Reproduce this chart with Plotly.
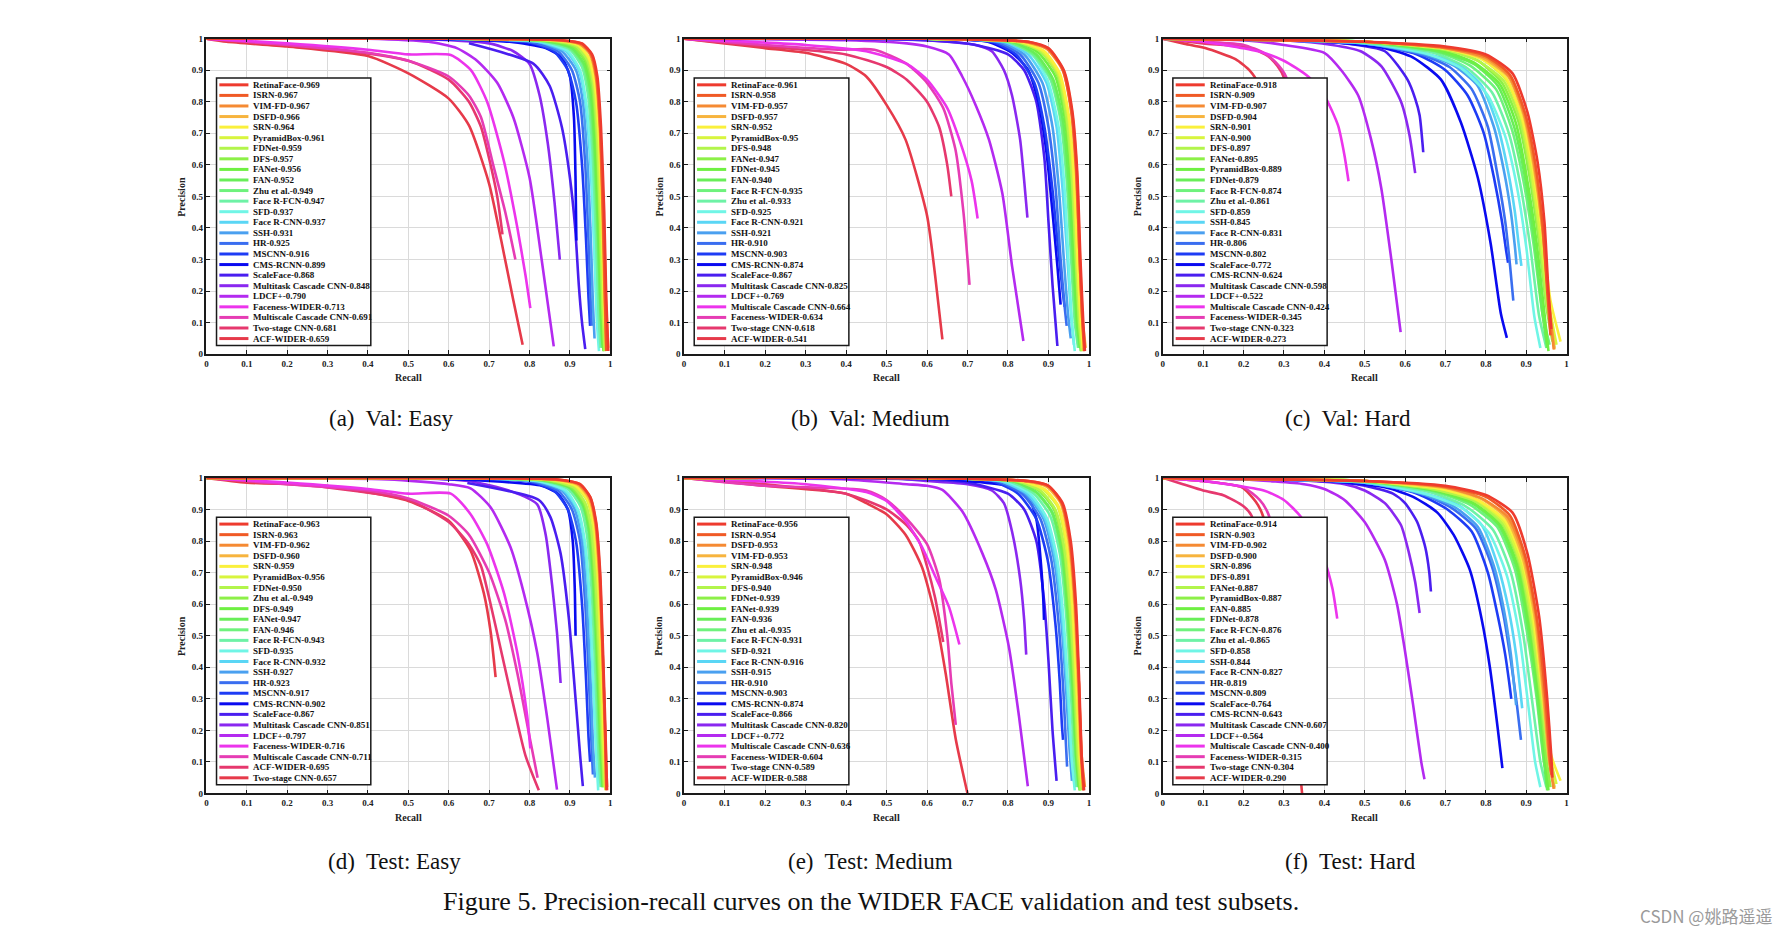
import plotly.graph_objects as go

# ---------------- colours by legend rank ----------------
COLORS = ["#ee3b2e", "#f05a26", "#f58a33", "#f7b43e", "#faf03c", "#d8f53e", "#b2f54b", "#8cf047",
          "#6ef042", "#68ee58", "#6ef27c", "#6ef2a6", "#70f5e6", "#5ad6f5", "#4aa0f0", "#3a6ef0",
          "#1e3cf5", "#0a0af0", "#4a1ef0", "#8a28f0", "#b42af0", "#ec34ec", "#e63cb4", "#e6386e", "#e63a4a"]

TICKS = [0, 0.1, 0.2, 0.3, 0.4, 0.5, 0.6, 0.7, 0.8, 0.9, 1]
TICK_TEXT = ["0", "0.1", "0.2", "0.3", "0.4", "0.5", "0.6", "0.7", "0.8", "0.9", "1"]

CAPTIONS = ["(a)\u00a0 Val: Easy", "(b)\u00a0 Val: Medium", "(c)\u00a0 Val: Hard",
            "(d)\u00a0 Test: Easy", "(e)\u00a0 Test: Medium", "(f)\u00a0 Test: Hard"]
FIG_CAPTION = "Figure 5. Precision-recall curves on the WIDER FACE validation and test subsets."
WATERMARK = "CSDN @姚路遥遥"

# ---------------- (a) Val: Easy ----------------
A_NAMES = ["RetinaFace", "ISRN", "VIM-FD", "DSFD", "SRN", "PyramidBox", "FDNet", "DFS", "FANet", "FAN",
           "Zhu et al.", "Face R-FCN", "SFD", "Face R-CNN", "SSH", "HR", "MSCNN", "CMS-RCNN", "ScaleFace",
           "Multitask Cascade CNN", "LDCF+", "Faceness-WIDER", "Multiscale Cascade CNN", "Two-stage CNN", "ACF-WIDER"]
A_AP = ["0.969", "0.967", "0.967", "0.966", "0.964", "0.961", "0.959", "0.957", "0.956", "0.952", "0.949", "0.947",
        "0.937", "0.937", "0.931", "0.925", "0.916", "0.899", "0.868", "0.848", "0.790", "0.713", "0.691", "0.681", "0.659"]
A_R = [
    [0, 0.6, 0.88, 0.93, 0.955, 0.968, 0.977, 0.985, 0.99, 0.995],
    [0, 0.6, 0.88, 0.93, 0.953, 0.966, 0.975, 0.982, 0.987, 0.99],
    [0, 0.6, 0.87, 0.925, 0.95, 0.964, 0.974, 0.981, 0.986, 0.99],
    [0, 0.6, 0.87, 0.925, 0.952, 0.966, 0.976, 0.984, 0.99, 0.995],
    [0, 0.6, 0.86, 0.92, 0.947, 0.962, 0.972, 0.98, 0.985, 0.99],
    [0, 0.6, 0.86, 0.92, 0.945, 0.96, 0.97, 0.978, 0.984, 0.99],
    [0, 0.6, 0.85, 0.915, 0.942, 0.957, 0.967, 0.975, 0.981, 0.986],
    [0, 0.6, 0.85, 0.91, 0.94, 0.955, 0.966, 0.974, 0.98, 0.985],
    [0, 0.6, 0.85, 0.91, 0.937, 0.953, 0.963, 0.972, 0.978, 0.983],
    [0, 0.6, 0.84, 0.905, 0.935, 0.95, 0.961, 0.97, 0.976, 0.981],
    [0, 0.6, 0.84, 0.9, 0.932, 0.948, 0.959, 0.968, 0.975, 0.98],
    [0, 0.6, 0.83, 0.9, 0.93, 0.945, 0.956, 0.965, 0.971, 0.976],
    [0, 0.6, 0.83, 0.895, 0.925, 0.94, 0.952, 0.96, 0.966, 0.972],
    [0, 0.6, 0.82, 0.89, 0.922, 0.938, 0.95, 0.96, 0.967, 0.974],
    [0, 0.6, 0.82, 0.88, 0.915, 0.932, 0.944, 0.952, 0.957, 0.961],
    [0, 0.6, 0.8, 0.87, 0.905, 0.925, 0.938, 0.946, 0.951, 0.954],
    [0, 0.6, 0.8, 0.86, 0.895, 0.915, 0.93, 0.94, 0.946, 0.95],
    [0, 0.5, 0.75, 0.84, 0.88, 0.9, 0.91, 0.914, 0.916],
    [0.65, 0.81, 0.85, 0.88, 0.9, 0.913, 0.922, 0.93, 0.938],
    [0, 0.5, 0.7, 0.76, 0.8, 0.825, 0.845, 0.862, 0.875],
    [0, 0.4, 0.55, 0.62, 0.67, 0.72, 0.76, 0.8, 0.83, 0.86],
    [0, 0.2, 0.4, 0.5, 0.605, 0.655, 0.695, 0.737, 0.77, 0.79, 0.802],
    [0, 0.2, 0.4, 0.5, 0.6, 0.65, 0.68, 0.71, 0.74, 0.765],
    [0, 0.1, 0.3, 0.5, 0.6, 0.65, 0.68, 0.70, 0.72, 0.733],
    [0, 0.05, 0.2, 0.4, 0.5, 0.6, 0.65, 0.7, 0.73, 0.76, 0.783],
]
A_P = [
    [1, 1, 0.995, 0.985, 0.95, 0.88, 0.72, 0.45, 0.18, 0.01],
    [1, 1, 0.995, 0.983, 0.95, 0.88, 0.72, 0.45, 0.18, 0.01],
    [1, 1, 0.995, 0.983, 0.95, 0.88, 0.72, 0.45, 0.18, 0.02],
    [1, 1, 0.995, 0.982, 0.95, 0.88, 0.7, 0.42, 0.15, 0.02],
    [1, 1, 0.995, 0.98, 0.94, 0.86, 0.7, 0.42, 0.15, 0.02],
    [1, 1, 0.994, 0.978, 0.94, 0.86, 0.7, 0.42, 0.15, 0.01],
    [1, 1, 0.994, 0.976, 0.935, 0.86, 0.7, 0.42, 0.15, 0.01],
    [1, 1, 0.993, 0.975, 0.93, 0.85, 0.68, 0.4, 0.15, 0.01],
    [1, 1, 0.993, 0.973, 0.93, 0.85, 0.68, 0.4, 0.15, 0.01],
    [1, 1, 0.993, 0.97, 0.92, 0.84, 0.66, 0.38, 0.14, 0.02],
    [1, 1, 0.992, 0.97, 0.92, 0.83, 0.65, 0.38, 0.14, 0.03],
    [1, 1, 0.992, 0.965, 0.91, 0.82, 0.64, 0.36, 0.13, 0.02],
    [1, 1, 0.99, 0.96, 0.9, 0.8, 0.62, 0.35, 0.12, 0.01],
    [1, 1, 0.99, 0.96, 0.9, 0.8, 0.62, 0.36, 0.15, 0.05],
    [1, 1, 0.99, 0.96, 0.9, 0.8, 0.6, 0.36, 0.16, 0.05],
    [1, 1, 0.99, 0.96, 0.9, 0.8, 0.6, 0.36, 0.18, 0.09],
    [1, 1, 0.988, 0.96, 0.9, 0.8, 0.6, 0.36, 0.18, 0.09],
    [1, 1, 0.99, 0.97, 0.94, 0.88, 0.75, 0.55, 0.36],
    [0.985, 0.92, 0.85, 0.72, 0.56, 0.4, 0.22, 0.1, 0.016],
    [1, 1, 0.985, 0.96, 0.92, 0.82, 0.67, 0.48, 0.30],
    [1, 1, 0.99, 0.97, 0.93, 0.86, 0.75, 0.56, 0.3, 0.025],
    [1, 0.985, 0.965, 0.95, 0.948, 0.9, 0.8, 0.61, 0.4, 0.25, 0.146],
    [1, 0.98, 0.955, 0.93, 0.88, 0.82, 0.75, 0.6, 0.45, 0.30],
    [1, 0.99, 0.97, 0.93, 0.87, 0.8, 0.72, 0.62, 0.5, 0.38],
    [1, 0.99, 0.975, 0.945, 0.89, 0.81, 0.725, 0.54, 0.36, 0.17, 0.03],
]

# ---------------- (b) Val: Medium ----------------
B_NAMES = ["RetinaFace", "ISRN", "VIM-FD", "DSFD", "SRN", "PyramidBox", "DFS", "FANet", "FDNet", "FAN",
           "Face R-FCN", "Zhu et al.", "SFD", "Face R-CNN", "SSH", "HR", "MSCNN", "CMS-RCNN", "ScaleFace",
           "Multitask Cascade CNN", "LDCF+", "Multiscale Cascade CNN", "Faceness-WIDER", "Two-stage CNN", "ACF-WIDER"]
B_AP = ["0.961", "0.958", "0.957", "0.957", "0.952", "0.95", "0.948", "0.947", "0.945", "0.940", "0.935", "0.933",
        "0.925", "0.921", "0.921", "0.910", "0.903", "0.874", "0.867", "0.825", "0.769", "0.664", "0.634", "0.618", "0.541"]
B_R = [
    [0, 0.6, 0.85, 0.9, 0.938, 0.959, 0.971, 0.979, 0.986, 0.99],
    [0, 0.6, 0.85, 0.9, 0.936, 0.957, 0.969, 0.977, 0.984, 0.988],
    [0, 0.6, 0.84, 0.895, 0.935, 0.956, 0.968, 0.977, 0.984, 0.99],
    [0, 0.6, 0.84, 0.895, 0.937, 0.958, 0.97, 0.978, 0.985, 0.992],
    [0, 0.6, 0.83, 0.89, 0.928, 0.95, 0.963, 0.972, 0.98, 0.985],
    [0, 0.6, 0.83, 0.885, 0.925, 0.948, 0.961, 0.971, 0.979, 0.985],
    [0, 0.6, 0.82, 0.88, 0.922, 0.945, 0.958, 0.968, 0.976, 0.982],
    [0, 0.6, 0.82, 0.88, 0.92, 0.943, 0.957, 0.967, 0.975, 0.982],
    [0, 0.6, 0.82, 0.875, 0.917, 0.94, 0.954, 0.964, 0.972, 0.98],
    [0, 0.6, 0.81, 0.87, 0.912, 0.936, 0.95, 0.961, 0.97, 0.978],
    [0, 0.6, 0.8, 0.865, 0.908, 0.932, 0.947, 0.958, 0.967, 0.975],
    [0, 0.6, 0.8, 0.86, 0.905, 0.93, 0.945, 0.956, 0.965, 0.973],
    [0, 0.6, 0.8, 0.86, 0.9, 0.925, 0.94, 0.95, 0.958, 0.965],
    [0, 0.6, 0.79, 0.85, 0.895, 0.92, 0.935, 0.947, 0.956, 0.963],
    [0, 0.6, 0.78, 0.84, 0.885, 0.91, 0.926, 0.938, 0.948, 0.955],
    [0, 0.6, 0.77, 0.83, 0.875, 0.9, 0.918, 0.93, 0.94, 0.945],
    [0, 0.6, 0.76, 0.82, 0.865, 0.89, 0.91, 0.925, 0.935, 0.94],
    [0, 0.6, 0.75, 0.81, 0.85, 0.875, 0.895, 0.91, 0.922, 0.93],
    [0, 0.6, 0.72, 0.8, 0.84, 0.87, 0.89, 0.9, 0.91, 0.922],
    [0, 0.5, 0.65, 0.72, 0.76, 0.79, 0.81, 0.83, 0.84, 0.848],
    [0, 0.4, 0.55, 0.6, 0.654, 0.687, 0.72, 0.753, 0.786, 0.81, 0.838],
    [0, 0.3, 0.45, 0.55, 0.6, 0.65, 0.68, 0.71, 0.725],
    [0, 0.2, 0.38, 0.47, 0.55, 0.6, 0.64, 0.67, 0.69, 0.705],
    [0, 0.2, 0.4, 0.5, 0.55, 0.6, 0.63, 0.65, 0.66],
    [0, 0.1, 0.2, 0.3, 0.4, 0.45, 0.5, 0.547, 0.6, 0.62, 0.638],
]
B_P = [
    [1, 1, 0.99, 0.97, 0.9, 0.77, 0.58, 0.3, 0.1, 0.01],
    [1, 1, 0.99, 0.968, 0.9, 0.77, 0.58, 0.3, 0.1, 0.01],
    [1, 1, 0.99, 0.968, 0.9, 0.77, 0.58, 0.3, 0.1, 0.02],
    [1, 1, 0.99, 0.97, 0.9, 0.77, 0.58, 0.3, 0.1, 0.02],
    [1, 1, 0.99, 0.96, 0.89, 0.76, 0.57, 0.3, 0.1, 0.02],
    [1, 1, 0.99, 0.96, 0.89, 0.76, 0.57, 0.3, 0.1, 0.01],
    [1, 1, 0.99, 0.96, 0.89, 0.75, 0.56, 0.3, 0.1, 0.01],
    [1, 1, 0.99, 0.96, 0.89, 0.75, 0.56, 0.3, 0.1, 0.01],
    [1, 1, 0.99, 0.955, 0.88, 0.75, 0.56, 0.3, 0.1, 0.01],
    [1, 1, 0.99, 0.95, 0.87, 0.74, 0.55, 0.3, 0.1, 0.02],
    [1, 1, 0.99, 0.95, 0.87, 0.74, 0.55, 0.3, 0.1, 0.02],
    [1, 1, 0.99, 0.95, 0.87, 0.74, 0.55, 0.3, 0.1, 0.02],
    [1, 1, 0.99, 0.95, 0.86, 0.72, 0.52, 0.28, 0.1, 0.01],
    [1, 1, 0.99, 0.95, 0.86, 0.72, 0.52, 0.3, 0.12, 0.03],
    [1, 1, 0.99, 0.95, 0.86, 0.72, 0.52, 0.3, 0.13, 0.05],
    [1, 1, 0.99, 0.95, 0.86, 0.72, 0.52, 0.3, 0.15, 0.09],
    [1, 1, 0.99, 0.95, 0.86, 0.72, 0.52, 0.32, 0.2, 0.15],
    [1, 1, 0.99, 0.955, 0.9, 0.8, 0.64, 0.45, 0.28, 0.157],
    [1, 0.995, 0.98, 0.95, 0.9, 0.8, 0.62, 0.42, 0.22, 0.026],
    [1, 1, 0.99, 0.98, 0.96, 0.9, 0.82, 0.68, 0.55, 0.433],
    [1, 0.995, 0.985, 0.975, 0.95, 0.88, 0.79, 0.68, 0.51, 0.28, 0.042],
    [1, 0.98, 0.96, 0.92, 0.87, 0.78, 0.68, 0.55, 0.43],
    [1, 0.98, 0.965, 0.965, 0.92, 0.86, 0.78, 0.65, 0.45, 0.22],
    [1, 0.975, 0.95, 0.91, 0.87, 0.8, 0.72, 0.6, 0.5],
    [1, 0.985, 0.97, 0.955, 0.92, 0.88, 0.79, 0.68, 0.44, 0.25, 0.047],
]

# ---------------- (c) Val: Hard ----------------
C_NAMES = ["RetinaFace", "ISRN", "VIM-FD", "DSFD", "SRN", "FAN", "DFS", "FANet", "PyramidBox", "FDNet",
           "Face R-FCN", "Zhu et al.", "SFD", "SSH", "Face R-CNN", "HR", "MSCNN", "ScaleFace", "CMS-RCNN",
           "Multitask Cascade CNN", "LDCF+", "Multiscale Cascade CNN", "Faceness-WIDER", "Two-stage CNN", "ACF-WIDER"]
C_AP = ["0.918", "0.909", "0.907", "0.904", "0.901", "0.900", "0.897", "0.895", "0.889", "0.879", "0.874", "0.861",
        "0.859", "0.845", "0.831", "0.806", "0.802", "0.772", "0.624", "0.598", "0.522", "0.424", "0.345", "0.323", "0.273"]
C_R = [
    [0, 0.5, 0.7, 0.8, 0.866, 0.903, 0.928, 0.945, 0.955, 0.962],
    [0, 0.5, 0.7, 0.8, 0.86, 0.898, 0.923, 0.94, 0.952, 0.96],
    [0, 0.5, 0.7, 0.8, 0.858, 0.895, 0.92, 0.94, 0.955, 0.968],
    [0, 0.5, 0.7, 0.79, 0.855, 0.893, 0.918, 0.94, 0.955, 0.97],
    [0, 0.5, 0.7, 0.79, 0.85, 0.89, 0.915, 0.94, 0.96, 0.985],
    [0, 0.5, 0.7, 0.79, 0.85, 0.888, 0.913, 0.935, 0.955, 0.975],
    [0, 0.5, 0.7, 0.78, 0.845, 0.885, 0.91, 0.932, 0.952, 0.97],
    [0, 0.5, 0.7, 0.78, 0.84, 0.88, 0.906, 0.93, 0.95, 0.965],
    [0, 0.5, 0.69, 0.77, 0.835, 0.875, 0.9, 0.925, 0.945, 0.955],
    [0, 0.5, 0.68, 0.77, 0.83, 0.87, 0.897, 0.92, 0.94, 0.952],
    [0, 0.5, 0.68, 0.76, 0.825, 0.865, 0.893, 0.918, 0.94, 0.958],
    [0, 0.5, 0.67, 0.75, 0.815, 0.857, 0.885, 0.91, 0.932, 0.95],
    [0, 0.5, 0.66, 0.74, 0.805, 0.848, 0.877, 0.9, 0.92, 0.935],
    [0, 0.5, 0.66, 0.73, 0.79, 0.83, 0.855, 0.872, 0.882, 0.888],
    [0, 0.5, 0.65, 0.72, 0.78, 0.82, 0.845, 0.862, 0.872, 0.876],
    [0, 0.5, 0.64, 0.71, 0.765, 0.805, 0.83, 0.848, 0.86, 0.868],
    [0, 0.5, 0.63, 0.7, 0.755, 0.795, 0.82, 0.84, 0.85, 0.855],
    [0, 0.4, 0.55, 0.62, 0.689, 0.738, 0.78, 0.812, 0.837, 0.852],
    [0, 0.3, 0.45, 0.55, 0.606, 0.625, 0.636, 0.645],
    [0, 0.3, 0.42, 0.49, 0.541, 0.59, 0.611, 0.625],
    [0, 0.2, 0.3, 0.4, 0.442, 0.484, 0.516, 0.541, 0.566, 0.589],
    [0, 0.1, 0.237, 0.3, 0.36, 0.4, 0.434, 0.45, 0.46],
    [0, 0.1, 0.2, 0.25, 0.28, 0.305, 0.33, 0.35],
    [0, 0.1, 0.218, 0.26, 0.284, 0.3, 0.32, 0.34],
    [0, 0.05, 0.105, 0.18, 0.216, 0.235, 0.25, 0.27],
]
C_P = [
    [1, 0.99, 0.975, 0.95, 0.89, 0.767, 0.61, 0.42, 0.2, 0.08],
    [1, 0.99, 0.972, 0.945, 0.885, 0.76, 0.6, 0.42, 0.2, 0.06],
    [1, 0.99, 0.97, 0.94, 0.88, 0.76, 0.6, 0.4, 0.18, 0.015],
    [1, 0.99, 0.97, 0.94, 0.88, 0.76, 0.6, 0.4, 0.18, 0.015],
    [1, 0.99, 0.968, 0.935, 0.875, 0.75, 0.6, 0.38, 0.17, 0.04],
    [1, 0.99, 0.968, 0.935, 0.87, 0.75, 0.58, 0.38, 0.17, 0.03],
    [1, 0.99, 0.965, 0.93, 0.865, 0.74, 0.58, 0.38, 0.15, 0.02],
    [1, 0.99, 0.965, 0.93, 0.86, 0.74, 0.58, 0.37, 0.15, 0.04],
    [1, 0.99, 0.962, 0.925, 0.855, 0.73, 0.57, 0.36, 0.13, 0.01],
    [1, 0.99, 0.96, 0.92, 0.85, 0.72, 0.56, 0.36, 0.13, 0.02],
    [1, 0.988, 0.958, 0.915, 0.84, 0.71, 0.55, 0.35, 0.13, 0.03],
    [1, 0.988, 0.955, 0.91, 0.83, 0.7, 0.54, 0.34, 0.12, 0.02],
    [1, 0.988, 0.95, 0.905, 0.82, 0.69, 0.53, 0.34, 0.12, 0.02],
    [1, 0.985, 0.95, 0.92, 0.85, 0.72, 0.58, 0.45, 0.34, 0.28],
    [1, 0.985, 0.95, 0.915, 0.85, 0.72, 0.58, 0.45, 0.34, 0.285],
    [1, 0.985, 0.95, 0.91, 0.84, 0.72, 0.56, 0.42, 0.28, 0.17],
    [1, 0.985, 0.95, 0.9, 0.82, 0.7, 0.56, 0.42, 0.33, 0.29],
    [1, 0.99, 0.97, 0.94, 0.87, 0.735, 0.56, 0.35, 0.13, 0.052],
    [1, 0.995, 0.985, 0.96, 0.87, 0.81, 0.757, 0.64],
    [1, 0.995, 0.98, 0.96, 0.913, 0.8, 0.694, 0.574],
    [1, 0.995, 0.98, 0.955, 0.9, 0.82, 0.68, 0.527, 0.3, 0.07],
    [1, 0.99, 0.96, 0.93, 0.88, 0.82, 0.725, 0.63, 0.548],
    [1, 0.99, 0.98, 0.955, 0.925, 0.88, 0.7, 0.4],
    [1, 0.985, 0.97, 0.945, 0.913, 0.877, 0.7, 0.4],
    [1, 0.985, 0.97, 0.935, 0.898, 0.86, 0.6, 0.3],
]

# ---------------- (d) Test: Easy ----------------
D_NAMES = ["RetinaFace", "ISRN", "VIM-FD", "DSFD", "SRN", "PyramidBox", "FDNet", "Zhu et al.", "DFS", "FANet",
           "FAN", "Face R-FCN", "SFD", "Face R-CNN", "SSH", "HR", "MSCNN", "CMS-RCNN", "ScaleFace",
           "Multitask Cascade CNN", "LDCF+", "Faceness-WIDER", "Multiscale Cascade CNN", "ACF-WIDER", "Two-stage CNN"]
D_AP = ["0.963", "0.963", "0.962", "0.960", "0.959", "0.956", "0.950", "0.949", "0.949", "0.947", "0.946", "0.943",
        "0.935", "0.932", "0.927", "0.923", "0.917", "0.902", "0.867", "0.851", "0.797", "0.716", "0.711", "0.695", "0.657"]
D_R = [
    [0, 0.6, 0.87, 0.925, 0.95, 0.965, 0.975, 0.982, 0.988, 0.992],
    [0, 0.6, 0.87, 0.925, 0.95, 0.964, 0.974, 0.981, 0.987, 0.99],
    [0, 0.6, 0.86, 0.92, 0.948, 0.963, 0.973, 0.981, 0.987, 0.992],
    [0, 0.6, 0.86, 0.92, 0.947, 0.962, 0.972, 0.98, 0.986, 0.99],
    [0, 0.6, 0.86, 0.915, 0.945, 0.96, 0.97, 0.978, 0.984, 0.99],
    [0, 0.6, 0.85, 0.912, 0.942, 0.957, 0.968, 0.976, 0.982, 0.988],
    [0, 0.6, 0.85, 0.91, 0.938, 0.953, 0.964, 0.973, 0.98, 0.985],
    [0, 0.6, 0.84, 0.905, 0.935, 0.951, 0.962, 0.971, 0.978, 0.984],
    [0, 0.6, 0.84, 0.905, 0.934, 0.95, 0.961, 0.97, 0.977, 0.983],
    [0, 0.6, 0.84, 0.9, 0.932, 0.948, 0.959, 0.968, 0.975, 0.981],
    [0, 0.6, 0.83, 0.9, 0.93, 0.946, 0.957, 0.966, 0.973, 0.98],
    [0, 0.6, 0.83, 0.895, 0.926, 0.942, 0.954, 0.963, 0.97, 0.976],
    [0, 0.6, 0.82, 0.89, 0.92, 0.937, 0.949, 0.958, 0.965, 0.97],
    [0, 0.6, 0.82, 0.885, 0.918, 0.935, 0.947, 0.957, 0.965, 0.972],
    [0, 0.6, 0.81, 0.88, 0.912, 0.93, 0.942, 0.951, 0.957, 0.962],
    [0, 0.6, 0.8, 0.87, 0.905, 0.925, 0.938, 0.947, 0.953, 0.957],
    [0, 0.6, 0.8, 0.86, 0.895, 0.915, 0.93, 0.94, 0.946, 0.95],
    [0, 0.5, 0.7, 0.83, 0.87, 0.895, 0.907, 0.912, 0.914],
    [0.646, 0.823, 0.852, 0.877, 0.897, 0.914, 0.926, 0.932],
    [0, 0.5, 0.65, 0.753, 0.819, 0.84, 0.856, 0.868, 0.877],
    [0, 0.45, 0.6, 0.654, 0.704, 0.753, 0.786, 0.819, 0.844, 0.868],
    [0, 0.2, 0.4, 0.5, 0.605, 0.654, 0.695, 0.737, 0.77, 0.794, 0.802],
    [0, 0.2, 0.4, 0.5, 0.6, 0.65, 0.7, 0.74, 0.77, 0.8, 0.82],
    [0, 0.1, 0.3, 0.5, 0.6, 0.65, 0.68, 0.7, 0.73, 0.76, 0.79, 0.823],
    [0, 0.1, 0.3, 0.5, 0.6, 0.654, 0.687, 0.704, 0.716],
]
D_P = [
    [1, 1, 0.995, 0.98, 0.94, 0.86, 0.7, 0.45, 0.2, 0.01],
    [1, 1, 0.995, 0.98, 0.94, 0.86, 0.7, 0.45, 0.2, 0.01],
    [1, 1, 0.995, 0.98, 0.94, 0.86, 0.7, 0.45, 0.2, 0.02],
    [1, 1, 0.994, 0.978, 0.935, 0.86, 0.7, 0.45, 0.2, 0.02],
    [1, 1, 0.994, 0.975, 0.93, 0.85, 0.69, 0.44, 0.18, 0.02],
    [1, 1, 0.994, 0.975, 0.93, 0.85, 0.68, 0.43, 0.17, 0.01],
    [1, 1, 0.993, 0.97, 0.92, 0.84, 0.67, 0.42, 0.17, 0.02],
    [1, 1, 0.993, 0.97, 0.92, 0.84, 0.66, 0.4, 0.16, 0.02],
    [1, 1, 0.993, 0.97, 0.92, 0.84, 0.66, 0.4, 0.16, 0.02],
    [1, 1, 0.992, 0.968, 0.915, 0.83, 0.65, 0.4, 0.16, 0.02],
    [1, 1, 0.992, 0.968, 0.915, 0.83, 0.65, 0.4, 0.16, 0.02],
    [1, 1, 0.992, 0.965, 0.91, 0.82, 0.64, 0.38, 0.15, 0.02],
    [1, 1, 0.99, 0.96, 0.9, 0.8, 0.62, 0.36, 0.13, 0.01],
    [1, 1, 0.99, 0.96, 0.9, 0.8, 0.62, 0.36, 0.15, 0.04],
    [1, 1, 0.99, 0.96, 0.9, 0.8, 0.6, 0.36, 0.16, 0.05],
    [1, 1, 0.99, 0.96, 0.9, 0.8, 0.6, 0.36, 0.17, 0.06],
    [1, 1, 0.988, 0.96, 0.9, 0.8, 0.6, 0.36, 0.18, 0.1],
    [1, 1, 0.99, 0.975, 0.95, 0.9, 0.8, 0.65, 0.5],
    [0.984, 0.93, 0.875, 0.76, 0.56, 0.3, 0.11, 0.023],
    [1, 1, 0.99, 0.958, 0.916, 0.82, 0.66, 0.51, 0.35],
    [1, 0.995, 0.98, 0.967, 0.906, 0.78, 0.634, 0.446, 0.237, 0.012],
    [1, 0.985, 0.965, 0.95, 0.95, 0.885, 0.79, 0.634, 0.444, 0.247, 0.143],
    [1, 0.98, 0.96, 0.935, 0.88, 0.82, 0.7, 0.55, 0.38, 0.18, 0.05],
    [1, 0.99, 0.97, 0.93, 0.86, 0.79, 0.72, 0.62, 0.45, 0.28, 0.12, 0.01],
    [1, 0.985, 0.974, 0.927, 0.864, 0.77, 0.634, 0.51, 0.369],
]

# ---------------- (e) Test: Medium ----------------
E_NAMES = ["RetinaFace", "ISRN", "DSFD", "VIM-FD", "SRN", "PyramidBox", "DFS", "FDNet", "FANet", "FAN",
           "Zhu et al.", "Face R-FCN", "SFD", "Face R-CNN", "SSH", "HR", "MSCNN", "CMS-RCNN", "ScaleFace",
           "Multitask Cascade CNN", "LDCF+", "Multiscale Cascade CNN", "Faceness-WIDER", "Two-stage CNN", "ACF-WIDER"]
E_AP = ["0.956", "0.954", "0.953", "0.953", "0.948", "0.946", "0.940", "0.939", "0.939", "0.936", "0.935", "0.931",
        "0.921", "0.916", "0.915", "0.910", "0.903", "0.874", "0.866", "0.820", "0.772", "0.636", "0.604", "0.589", "0.588"]
E_R = [
    [0, 0.6, 0.85, 0.9, 0.935, 0.955, 0.968, 0.976, 0.982, 0.988],
    [0, 0.6, 0.85, 0.9, 0.933, 0.953, 0.966, 0.975, 0.981, 0.986],
    [0, 0.6, 0.84, 0.9, 0.932, 0.952, 0.966, 0.975, 0.982, 0.99],
    [0, 0.6, 0.84, 0.895, 0.93, 0.95, 0.964, 0.973, 0.98, 0.988],
    [0, 0.6, 0.83, 0.89, 0.925, 0.946, 0.96, 0.97, 0.978, 0.985],
    [0, 0.6, 0.83, 0.885, 0.922, 0.943, 0.958, 0.968, 0.976, 0.983],
    [0, 0.6, 0.82, 0.88, 0.917, 0.939, 0.954, 0.965, 0.973, 0.98],
    [0, 0.6, 0.82, 0.878, 0.915, 0.937, 0.952, 0.963, 0.971, 0.978],
    [0, 0.6, 0.82, 0.876, 0.914, 0.936, 0.951, 0.962, 0.97, 0.977],
    [0, 0.6, 0.81, 0.87, 0.91, 0.933, 0.948, 0.96, 0.968, 0.975],
    [0, 0.6, 0.81, 0.868, 0.908, 0.931, 0.946, 0.958, 0.967, 0.974],
    [0, 0.6, 0.8, 0.862, 0.904, 0.928, 0.944, 0.955, 0.963, 0.97],
    [0, 0.6, 0.79, 0.855, 0.897, 0.922, 0.938, 0.95, 0.958, 0.965],
    [0, 0.6, 0.78, 0.848, 0.892, 0.918, 0.935, 0.948, 0.957, 0.965],
    [0, 0.6, 0.78, 0.843, 0.888, 0.914, 0.932, 0.944, 0.952, 0.958],
    [0, 0.6, 0.77, 0.835, 0.88, 0.907, 0.925, 0.937, 0.943, 0.946],
    [0, 0.6, 0.76, 0.825, 0.87, 0.898, 0.917, 0.928, 0.933, 0.936],
    [0, 0.6, 0.7, 0.8, 0.85, 0.87, 0.88, 0.887, 0.889],
    [0, 0.6, 0.7, 0.8, 0.84, 0.87, 0.89, 0.9, 0.91, 0.92],
    [0, 0.5, 0.6, 0.7, 0.76, 0.79, 0.81, 0.83, 0.84, 0.845],
    [0, 0.4, 0.55, 0.6, 0.638, 0.687, 0.737, 0.77, 0.802, 0.827, 0.849],
    [0, 0.3, 0.45, 0.5, 0.547, 0.588, 0.621, 0.654, 0.68],
    [0, 0.2, 0.45, 0.5, 0.55, 0.6, 0.63, 0.65, 0.66, 0.671],
    [0, 0.2, 0.4, 0.5, 0.55, 0.58, 0.6, 0.62, 0.64],
    [0, 0.2, 0.4, 0.45, 0.5, 0.547, 0.588, 0.621, 0.646, 0.671, 0.70],
]
E_P = [
    [1, 1, 0.99, 0.975, 0.92, 0.8, 0.6, 0.35, 0.12, 0.01],
    [1, 1, 0.99, 0.975, 0.92, 0.8, 0.6, 0.35, 0.12, 0.01],
    [1, 1, 0.99, 0.972, 0.92, 0.8, 0.6, 0.35, 0.12, 0.02],
    [1, 1, 0.99, 0.972, 0.92, 0.8, 0.6, 0.35, 0.12, 0.02],
    [1, 1, 0.99, 0.965, 0.91, 0.79, 0.59, 0.34, 0.12, 0.02],
    [1, 1, 0.99, 0.965, 0.91, 0.79, 0.59, 0.34, 0.12, 0.02],
    [1, 1, 0.99, 0.96, 0.9, 0.78, 0.58, 0.34, 0.12, 0.01],
    [1, 1, 0.99, 0.96, 0.9, 0.78, 0.58, 0.34, 0.12, 0.01],
    [1, 1, 0.99, 0.96, 0.9, 0.78, 0.58, 0.34, 0.12, 0.01],
    [1, 1, 0.99, 0.955, 0.89, 0.77, 0.57, 0.33, 0.12, 0.02],
    [1, 1, 0.99, 0.955, 0.89, 0.77, 0.57, 0.33, 0.12, 0.02],
    [1, 1, 0.99, 0.952, 0.88, 0.76, 0.56, 0.33, 0.12, 0.02],
    [1, 1, 0.99, 0.95, 0.87, 0.74, 0.54, 0.3, 0.1, 0.01],
    [1, 1, 0.99, 0.95, 0.87, 0.74, 0.54, 0.3, 0.12, 0.02],
    [1, 1, 0.99, 0.95, 0.87, 0.74, 0.54, 0.32, 0.14, 0.04],
    [1, 1, 0.99, 0.95, 0.87, 0.74, 0.54, 0.32, 0.16, 0.085],
    [1, 1, 0.99, 0.95, 0.87, 0.74, 0.54, 0.35, 0.22, 0.17],
    [1, 1, 0.99, 0.975, 0.94, 0.87, 0.75, 0.62, 0.55],
    [1, 0.995, 0.985, 0.95, 0.9, 0.8, 0.6, 0.42, 0.2, 0.04],
    [1, 1, 0.99, 0.98, 0.96, 0.92, 0.83, 0.68, 0.55, 0.44],
    [1, 0.995, 0.98, 0.975, 0.962, 0.894, 0.76, 0.645, 0.466, 0.246, 0.023],
    [1, 0.98, 0.955, 0.927, 0.864, 0.78, 0.686, 0.592, 0.472],
    [1, 0.975, 0.96, 0.93, 0.87, 0.79, 0.68, 0.5, 0.35, 0.217],
    [1, 0.98, 0.95, 0.9, 0.85, 0.8, 0.72, 0.62, 0.48],
    [1, 0.975, 0.95, 0.92, 0.885, 0.82, 0.716, 0.559, 0.381, 0.172, 0.0],
]

# ---------------- (f) Test: Hard ----------------
F_NAMES = ["RetinaFace", "ISRN", "VIM-FD", "DSFD", "SRN", "DFS", "FANet", "PyramidBox", "FAN", "FDNet",
           "Face R-FCN", "Zhu et al.", "SFD", "SSH", "Face R-CNN", "HR", "MSCNN", "ScaleFace", "CMS-RCNN",
           "Multitask Cascade CNN", "LDCF+", "Multiscale Cascade CNN", "Faceness-WIDER", "Two-stage CNN", "ACF-WIDER"]
F_AP = ["0.914", "0.903", "0.902", "0.900", "0.896", "0.891", "0.887", "0.887", "0.885", "0.878", "0.876", "0.865",
        "0.858", "0.844", "0.827", "0.819", "0.809", "0.764", "0.643", "0.607", "0.564", "0.400", "0.315", "0.304", "0.290"]
F_R = [
    [0, 0.5, 0.7, 0.8, 0.866, 0.903, 0.932, 0.952, 0.962, 0.965],
    [0, 0.5, 0.7, 0.8, 0.86, 0.898, 0.927, 0.948, 0.958, 0.962],
    [0, 0.5, 0.7, 0.79, 0.855, 0.895, 0.925, 0.945, 0.958, 0.968],
    [0, 0.5, 0.7, 0.79, 0.852, 0.893, 0.922, 0.943, 0.957, 0.97],
    [0, 0.5, 0.69, 0.78, 0.848, 0.89, 0.92, 0.942, 0.962, 0.985],
    [0, 0.5, 0.69, 0.78, 0.845, 0.887, 0.917, 0.94, 0.958, 0.975],
    [0, 0.5, 0.68, 0.775, 0.842, 0.884, 0.914, 0.937, 0.955, 0.97],
    [0, 0.5, 0.68, 0.775, 0.84, 0.882, 0.912, 0.935, 0.95, 0.96],
    [0, 0.5, 0.68, 0.77, 0.836, 0.879, 0.909, 0.932, 0.948, 0.955],
    [0, 0.5, 0.67, 0.765, 0.832, 0.875, 0.905, 0.928, 0.944, 0.952],
    [0, 0.5, 0.67, 0.76, 0.828, 0.872, 0.902, 0.926, 0.944, 0.958],
    [0, 0.5, 0.66, 0.75, 0.818, 0.862, 0.893, 0.916, 0.935, 0.95],
    [0, 0.5, 0.65, 0.74, 0.808, 0.852, 0.883, 0.905, 0.922, 0.935],
    [0, 0.5, 0.65, 0.73, 0.79, 0.83, 0.857, 0.875, 0.885, 0.89],
    [0, 0.5, 0.64, 0.72, 0.78, 0.82, 0.845, 0.862, 0.871, 0.875],
    [0, 0.5, 0.64, 0.715, 0.775, 0.815, 0.843, 0.862, 0.877, 0.887],
    [0, 0.5, 0.63, 0.705, 0.765, 0.805, 0.83, 0.848, 0.858, 0.863],
    [0, 0.4, 0.55, 0.62, 0.68, 0.72, 0.76, 0.79, 0.81, 0.83, 0.841],
    [0, 0.4, 0.5, 0.57, 0.6, 0.63, 0.65, 0.66, 0.664],
    [0, 0.3, 0.45, 0.5, 0.55, 0.59, 0.61, 0.625, 0.636],
    [0, 0.2, 0.35, 0.4, 0.45, 0.5, 0.55, 0.58, 0.6, 0.62, 0.64, 0.648],
    [0, 0.1, 0.25, 0.3, 0.34, 0.37, 0.4, 0.42, 0.432],
    [0, 0.1, 0.2, 0.24, 0.26, 0.28, 0.3, 0.32],
    [0, 0.05, 0.1, 0.15, 0.2, 0.22, 0.25, 0.28, 0.3],
    [0, 0.1, 0.196, 0.23, 0.248, 0.27, 0.3, 0.33, 0.345],
]
F_P = [
    [1, 0.99, 0.975, 0.946, 0.89, 0.76, 0.56, 0.3, 0.12, 0.05],
    [1, 0.99, 0.972, 0.94, 0.88, 0.75, 0.55, 0.3, 0.12, 0.06],
    [1, 0.99, 0.97, 0.935, 0.875, 0.75, 0.55, 0.3, 0.1, 0.015],
    [1, 0.99, 0.968, 0.933, 0.87, 0.74, 0.55, 0.3, 0.1, 0.015],
    [1, 0.99, 0.965, 0.93, 0.865, 0.74, 0.54, 0.3, 0.12, 0.04],
    [1, 0.99, 0.965, 0.928, 0.86, 0.73, 0.54, 0.3, 0.12, 0.03],
    [1, 0.99, 0.962, 0.925, 0.855, 0.73, 0.53, 0.3, 0.11, 0.02],
    [1, 0.99, 0.962, 0.925, 0.855, 0.73, 0.53, 0.3, 0.11, 0.02],
    [1, 0.99, 0.96, 0.92, 0.85, 0.72, 0.52, 0.3, 0.1, 0.01],
    [1, 0.99, 0.96, 0.92, 0.85, 0.72, 0.52, 0.3, 0.1, 0.01],
    [1, 0.988, 0.958, 0.915, 0.845, 0.71, 0.51, 0.3, 0.1, 0.03],
    [1, 0.988, 0.955, 0.91, 0.835, 0.7, 0.5, 0.28, 0.1, 0.02],
    [1, 0.988, 0.95, 0.905, 0.825, 0.69, 0.5, 0.28, 0.1, 0.02],
    [1, 0.985, 0.95, 0.915, 0.85, 0.72, 0.58, 0.44, 0.33, 0.27],
    [1, 0.985, 0.95, 0.91, 0.845, 0.72, 0.58, 0.44, 0.33, 0.28],
    [1, 0.985, 0.95, 0.905, 0.84, 0.72, 0.57, 0.42, 0.28, 0.17],
    [1, 0.985, 0.95, 0.9, 0.83, 0.7, 0.56, 0.44, 0.35, 0.3],
    [1, 0.99, 0.97, 0.94, 0.89, 0.82, 0.71, 0.55, 0.4, 0.2, 0.08],
    [1, 0.99, 0.975, 0.95, 0.92, 0.86, 0.78, 0.7, 0.64],
    [1, 0.995, 0.98, 0.96, 0.92, 0.85, 0.76, 0.67, 0.572],
    [1, 0.995, 0.98, 0.965, 0.93, 0.86, 0.74, 0.6, 0.45, 0.28, 0.1, 0.045],
    [1, 0.99, 0.96, 0.93, 0.88, 0.82, 0.74, 0.65, 0.554],
    [1, 0.99, 0.97, 0.93, 0.89, 0.8, 0.6, 0.3],
    [1, 0.98, 0.96, 0.945, 0.91, 0.88, 0.7, 0.45, 0.2],
    [1, 0.99, 0.97, 0.925, 0.88, 0.7, 0.5, 0.2, 0.0],
]

PANELS = [
    (A_NAMES, A_AP, A_R, A_P),
    (B_NAMES, B_AP, B_R, B_P),
    (C_NAMES, C_AP, C_R, C_P),
    (D_NAMES, D_AP, D_R, D_P),
    (E_NAMES, E_AP, E_R, E_P),
    (F_NAMES, F_AP, F_R, F_P),
]

# ---------------- layout geometry (pixels of the 1792x934 page) ----------------
W, H = 1792, 934
X_PIX = [(205, 610), (684, 1090), (1164, 1569)]
Y_PIX = [(34, 353), (478, 797)]
CAP_POS = [(391, 418), (871, 418), (1350, 418), (394, 866), (871, 866), (1352, 866)]

SERIF = "Liberation Serif, Times New Roman, serif"

fig = go.Figure()
layout = dict(
    width=W, height=H, margin=dict(l=0, r=0, t=0, b=0),
    paper_bgcolor="white", plot_bgcolor="white", showlegend=False,
)
shapes = []
annotations = []

for k, (names, aps, rs, ps) in enumerate(PANELS):
    row, col = divmod(k, 3)
    xn = "x" if k == 0 else f"x{k + 1}"
    yn = "y" if k == 0 else f"y{k + 1}"
    xa = "xaxis" if k == 0 else f"xaxis{k + 1}"
    ya = "yaxis" if k == 0 else f"yaxis{k + 1}"
    x0p, x1p = X_PIX[col]
    y0p, y1p = Y_PIX[row]
    axis_common = dict(
        range=[0, 1], tickvals=TICKS, ticktext=TICK_TEXT, showgrid=True,
        gridcolor="#dadada", gridwidth=1, zeroline=False, showline=True, linecolor="#1a1a1a",
        linewidth=1.5, mirror="allticks", ticks="inside", ticklen=4, tickwidth=1.2, tickcolor="#1a1a1a",
        tickfont=dict(family=SERIF, size=9, color="#222", weight="bold"), fixedrange=True,
    )
    layout[xa] = dict(axis_common, domain=[x0p / W, x1p / W], anchor=yn)
    layout[ya] = dict(axis_common, domain=[1 - y1p / H, 1 - y0p / H], anchor=xn)

    # curves (lowest rank drawn first so the best method sits on top)
    for i in range(len(names) - 1, -1, -1):
        fig.add_trace(go.Scatter(
            x=rs[i], y=ps[i], mode="lines", xaxis=xn, yaxis=yn,
            name=f"{names[i]}-{aps[i]}",
            line=dict(color=COLORS[i], width=2.6, shape="spline", smoothing=0.6),
            hoverinfo="name+x+y",
        ))

    # axis titles
    annotations.append(dict(text="<b>Recall</b>", xref=f"{xn} domain", yref=f"{yn} domain",
                            x=0.5, y=-0.075, showarrow=False, xanchor="center", yanchor="middle",
                            font=dict(family=SERIF, size=10, color="#222")))
    annotations.append(dict(text="<b>Precision</b>", xref=f"{xn} domain", yref=f"{yn} domain",
                            x=-0.062, y=0.5, showarrow=False, textangle=-90, xanchor="center",
                            yanchor="middle", font=dict(family=SERIF, size=10, color="#222")))

    # legend box drawn by hand (compact MATLAB-style legend)
    shapes.append(dict(type="rect", xref=f"{xn} domain", yref=f"{yn} domain",
                       x0=0.025, x1=0.407, y0=0.028, y1=0.875,
                       fillcolor="white", line=dict(color="#1a1a1a", width=1.5), layer="above"))
    for i in range(len(names)):
        yy = 0.8536 - i * 0.0335
        shapes.append(dict(type="line", xref=f"{xn} domain", yref=f"{yn} domain",
                           x0=0.032, x1=0.104, y0=yy, y1=yy,
                           line=dict(color=COLORS[i], width=3), layer="above"))
        annotations.append(dict(text=f"<b>{names[i]}-{aps[i]}</b>", xref=f"{xn} domain",
                                yref=f"{yn} domain", x=0.111, y=yy, showarrow=False,
                                xanchor="left", yanchor="middle",
                                font=dict(family=SERIF, size=9, color="#111")))

    # sub-figure caption
    cx, cy = CAP_POS[k]
    annotations.append(dict(text=CAPTIONS[k], xref="paper", yref="paper", x=cx / W, y=1 - cy / H,
                            showarrow=False, xanchor="center", yanchor="middle",
                            font=dict(family=SERIF, size=23, color="#111")))

annotations.append(dict(text=FIG_CAPTION, xref="paper", yref="paper", x=871 / W, y=1 - 906 / H,
                        showarrow=False, xanchor="center", yanchor="middle",
                        font=dict(family=SERIF, size=26, color="#111")))
annotations.append(dict(text=WATERMARK, xref="paper", yref="paper", x=1777 / W, y=1 - 920 / H,
                        showarrow=False, xanchor="right", yanchor="middle",
                        font=dict(family="Noto Sans CJK SC, sans-serif", size=17, color="#9a9a9a")))

layout["shapes"] = shapes
layout["annotations"] = annotations
fig.update_layout(**layout)
fig.write_html(
    "out.html",
    config={"displayModeBar": False, "staticPlot": False},
    post_script="document.body.style.margin='0px';document.body.style.overflow='hidden';",
)
